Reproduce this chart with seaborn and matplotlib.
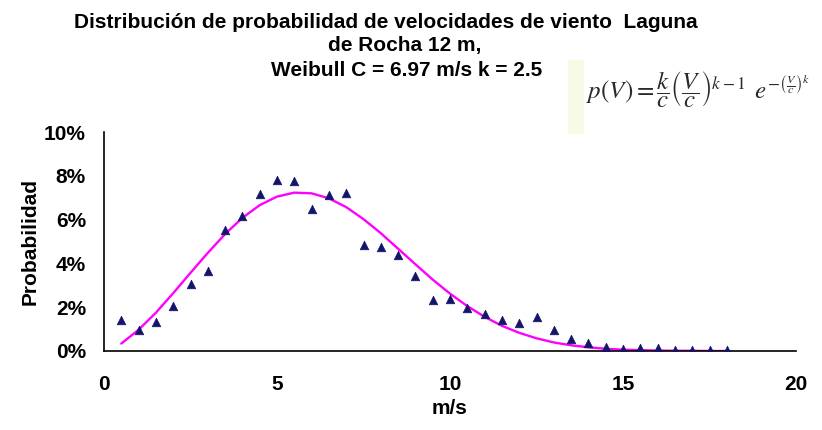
import matplotlib
matplotlib.use("Agg")
import matplotlib.pyplot as plt
from matplotlib.ticker import PercentFormatter
from matplotlib.patches import Rectangle
import seaborn as sns
import pandas as pd

# ---- data ----
wind_speed = [0.5, 1.0, 1.5, 2.0, 2.5, 3.0, 3.5, 4.0, 4.5, 5.0, 5.5, 6.0,
              6.5, 7.0, 7.5, 8.0, 8.5, 9.0, 9.5, 10.0, 10.5, 11.0, 11.5, 12.0,
              12.5, 13.0, 13.5, 14.0, 14.5, 15.0, 15.5, 16.0, 16.5, 17.0, 17.5, 18.0]
observed_pct = [1.41, 0.95, 1.34, 2.05, 3.06, 3.65, 5.52, 6.16, 7.19, 7.80, 7.75, 6.48,
                7.12, 7.22, 4.85, 4.77, 4.39, 3.41, 2.35, 2.39, 1.96, 1.71, 1.41, 1.28,
                1.56, 0.95, 0.56, 0.36, 0.18, 0.08, 0.12, 0.12, 0.05, 0.05, 0.03, 0.03]
weibull_pct = [0.34, 0.97, 1.75, 2.64, 3.57, 4.48, 5.34, 6.08, 6.66, 7.05, 7.23, 7.20,
               6.97, 6.57, 6.02, 5.38, 4.67, 3.96, 3.26, 2.62, 2.05, 1.56, 1.15, 0.83,
               0.58, 0.39, 0.26, 0.17, 0.10, 0.06, 0.04, 0.02, 0.01, 0.01, 0.00, 0.00]
x_ticks = [0, 5, 10, 15, 20]
y_ticks = [0, 2, 4, 6, 8, 10]
title_lines = ["Distribución de probabilidad de velocidades de viento  Laguna",
               "de Rocha 12 m,",
               "Weibull C = 6.97 m/s k = 2.5"]
x_label = "m/s"
y_label = "Probabilidad"
formula = (r"$p(V)=\dfrac{k}{c}\left(\dfrac{V}{c}\right)^{k-1}\;\,"
           r"e^{-\left(\frac{V}{c}\right)^{k}}$")

df = pd.DataFrame({"v": wind_speed, "obs": observed_pct, "fit": weibull_pct})

sns.set_style("white")
plt.rcParams["font.family"] = ["Liberation Sans", "DejaVu Sans"]
plt.rcParams["mathtext.fontset"] = "stix"
plt.rcParams["text.color"] = "black"
plt.rcParams["axes.labelcolor"] = "black"

fig = plt.figure(figsize=(8.22, 4.30), dpi=100)
ax = fig.add_axes([104 / 822, 1 - 351 / 430, 692 / 822, 219 / 430])

sns.lineplot(data=df, x="v", y="fit", ax=ax, color="#FF00FF", linewidth=1.7, zorder=2)
sns.scatterplot(data=df, x="v", y="obs", ax=ax, marker="^", s=38, color="#14146A",
                edgecolor="#14146A", linewidth=0.5, zorder=3)

ax.set_xlim(0, 20)
ax.set_ylim(0, 10)
ax.set_xticks(x_ticks)
ax.set_yticks(y_ticks)
ax.yaxis.set_major_formatter(PercentFormatter(xmax=100, decimals=0))

for side in ["top", "right"]:
    ax.spines[side].set_visible(False)
for side in ["left", "bottom"]:
    ax.spines[side].set_color("black")
    ax.spines[side].set_linewidth(1.2)

ax.tick_params(axis="both", which="major", direction="out", color="black",
               width=1.0, labelsize=15, labelcolor="black")
ax.tick_params(axis="y", length=7, pad=6)
ax.tick_params(axis="x", length=5, pad=12)
for lab in ax.get_xticklabels() + ax.get_yticklabels():
    lab.set_fontweight("bold")

ax.set_xlabel(x_label, fontsize=15, fontweight="bold", labelpad=4, color="black")
ax.set_ylabel(y_label, fontsize=15, fontweight="bold", labelpad=3, color="black")

# title lines
fig.text(386 / 822, 1 - 22 / 430, title_lines[0], ha="center", va="center",
         fontsize=15, fontweight="bold", color="black")
fig.text(405 / 822, 1 - 46 / 430, title_lines[1], ha="center", va="center",
         fontsize=15, fontweight="bold", color="black")
fig.text(407 / 822, 1 - 70 / 430, title_lines[2], ha="center", va="center",
         fontsize=15, fontweight="bold", color="black")

# faint highlight strip and formula
fig.patches.append(Rectangle((568 / 822, 1 - 134 / 430), 16 / 822, 74 / 430,
                             transform=fig.transFigure, facecolor="#F7FAE4",
                             edgecolor="none", zorder=0))
fig.text(586 / 822, 1 - 90 / 430, formula, ha="left", va="center",
         fontsize=18, color="#2A2A2A")

fig.savefig("out.png", dpi=100)
